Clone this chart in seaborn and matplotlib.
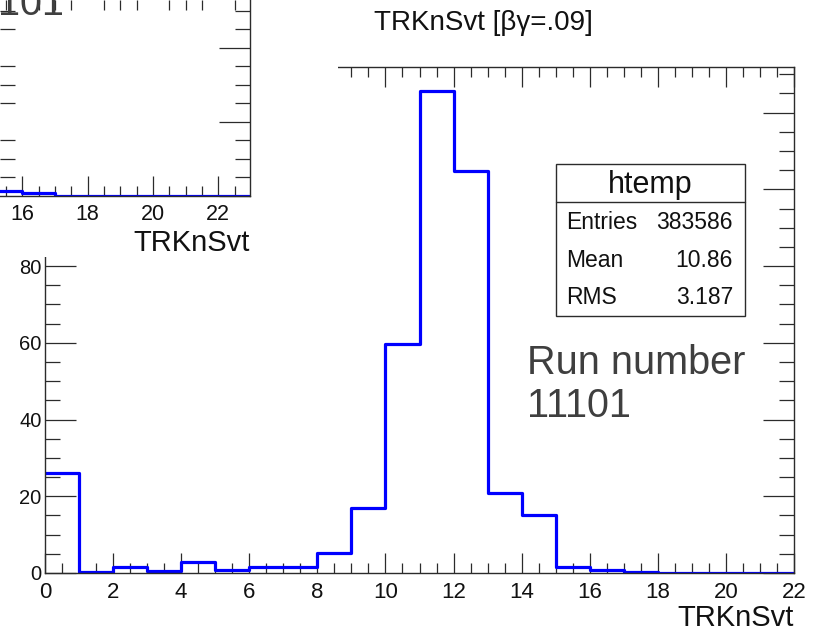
import numpy as np
import pandas as pd
import matplotlib
matplotlib.use("Agg")
import matplotlib.pyplot as plt
import seaborn as sns
from matplotlib.patches import Rectangle
from matplotlib.lines import Line2D
from matplotlib.ticker import MultipleLocator

# ---- data -------------------------------------------------------------
# TRKnSvt histogram, one bin per unit from 0 to 22
bin_edges = list(range(0, 23))
bin_counts = [26.1, 0.3, 1.5, 0.5, 2.9, 0.8, 1.5, 1.5, 5.3, 16.9, 59.7,
              125.7, 104.8, 20.8, 15.0, 1.5, 0.8, 0.2, 0.1, 0.05, 0.03, 0.02]

# neighbouring pad: tail of the same variable, bins 15..23
prev_edges = list(range(15, 24))
prev_counts = [1.4, 0.8, 0.1, 0.05, 0.03, 0.02, 0.01, 0.01]

hist_name = "htemp"
stat_labels = ["Entries", "Mean", "RMS"]
stat_values = ["383586", "10.86", "3.187"]
title_text = "TRKnSvt [βγ=.09]"
axis_label = "TRKnSvt"
run_text = "Run number\n11101"
prev_run_text = "11101"

# ---- style ------------------------------------------------------------
sns.set_theme(style="ticks")
plt.rcParams["font.family"] = ["Liberation Sans", "DejaVu Sans"]
LINE = "#2b2b2b"
TEXT = "#111111"
BLUE = "#0000ff"

W, H = 821, 632
fig = plt.figure(figsize=(W / 100, H / 100), dpi=100)
fig.patch.set_facecolor("white")


def fx(px):
    return px / W


def fy(py):
    return 1 - py / H


def style_axes(ax, xlab_size, ylab_size):
    for s in ax.spines.values():
        s.set_color(LINE)
        s.set_linewidth(1.0)
    ax.xaxis.set_major_locator(MultipleLocator(2))
    ax.xaxis.set_minor_locator(MultipleLocator(0.5))
    ax.yaxis.set_major_locator(MultipleLocator(20))
    ax.yaxis.set_minor_locator(MultipleLocator(5))
    ax.tick_params(which="both", direction="in", colors=LINE,
                   labelcolor=TEXT, width=0.9, top=True, right=True)
    ax.tick_params(axis="x", which="major", length=14.5, pad=6.5,
                   labelsize=xlab_size)
    ax.tick_params(axis="x", which="minor", length=7)
    ax.tick_params(axis="y", which="major", length=22, pad=2.5,
                   labelsize=ylab_size)
    ax.tick_params(axis="y", which="minor", length=10.5)
    ax.set_facecolor("white")
    ax.grid(False)


def draw_hist(ax, edges, counts):
    e = np.asarray(edges, dtype=float)
    df = pd.DataFrame({"value": (e[:-1] + e[1:]) / 2, "count": counts})
    sns.histplot(data=df, x="value", weights="count", bins=list(edges),
                 element="step", fill=False, color=BLUE, linewidth=2.3,
                 ax=ax)


# ---- main pad ---------------------------------------------------------
ax = fig.add_axes([fx(45), fy(573), (794 - 45) / W, (573 - 67) / H], zorder=0)
draw_hist(ax, bin_edges, bin_counts)
ax.set_xlim(0, 22)
ax.set_ylim(0, 131.9)
style_axes(ax, 16, 14.5)
ax.set_ylabel("")
ax.set_xlabel(axis_label, fontsize=21, color=TEXT, ha="right", va="baseline")
ax.xaxis.set_label_coords(1.0, (573 - 626) / (573 - 67))

# white pad covering the upper-left corner
fig.add_artist(Rectangle((0, fy(257)), 338 / W, 257 / H,
                         transform=fig.transFigure, facecolor="white",
                         edgecolor="none", zorder=1))

# ---- upper-left pad ---------------------------------------------------
ax2 = fig.add_axes([0, fy(196), 250 / W, 196 / H], zorder=2)
draw_hist(ax2, prev_edges, prev_counts)
ax2.set_xlim(15.32, 22.97)
ax2.set_ylim(0, 52.97)
style_axes(ax2, 15.5, 14.5)
ax2.spines["left"].set_visible(False)
ax2.spines["top"].set_visible(False)
ax2.tick_params(left=False, top=False, labelleft=False)
ax2.tick_params(axis="x", which="major", pad=5.5)
ax2.set_ylabel("")
ax2.set_xlabel(axis_label, fontsize=21, color=TEXT, ha="right", va="baseline")
ax2.xaxis.set_label_coords(1.0, (196 - 251) / 196)
fig.text(fx(64), fy(15), prev_run_text, ha="right", va="baseline",
         fontsize=28.5, color="#3f3f3f", zorder=3)

# ---- title ------------------------------------------------------------
fig.text(fx(483), fy(30), title_text, ha="center", va="baseline",
         fontsize=20, color=TEXT, zorder=3)

# ---- statistics box ---------------------------------------------------
bx0, bx1, by0, by1, bdiv = 556, 745, 164, 316, 202
fig.add_artist(Rectangle((fx(bx0), fy(by1)), (bx1 - bx0) / W, (by1 - by0) / H,
                         transform=fig.transFigure, facecolor="white",
                         edgecolor=LINE, linewidth=1.0, zorder=3))
fig.add_artist(Line2D([fx(bx0), fx(bx1)], [fy(bdiv), fy(bdiv)],
                      transform=fig.transFigure, color=LINE, linewidth=1.0,
                      zorder=4))
fig.text(fx((bx0 + bx1) / 2), fy(193), hist_name, ha="center",
         va="baseline", fontsize=22, color=TEXT, zorder=5)
for lab, val, base in zip(stat_labels, stat_values, [229, 267, 304]):
    fig.text(fx(566), fy(base), lab, ha="left", va="baseline",
             fontsize=16.5, color=TEXT, zorder=5)
    fig.text(fx(733), fy(base), val, ha="right", va="baseline",
             fontsize=16.5, color=TEXT, zorder=5)

# ---- run label (baseline of the last line) ----------------------------
fig.text(fx(527), fy(417), run_text, ha="left", va="baseline",
         fontsize=28.5, color="#3f3f3f", linespacing=1.15, zorder=3)

fig.savefig("out.png", dpi=100)
